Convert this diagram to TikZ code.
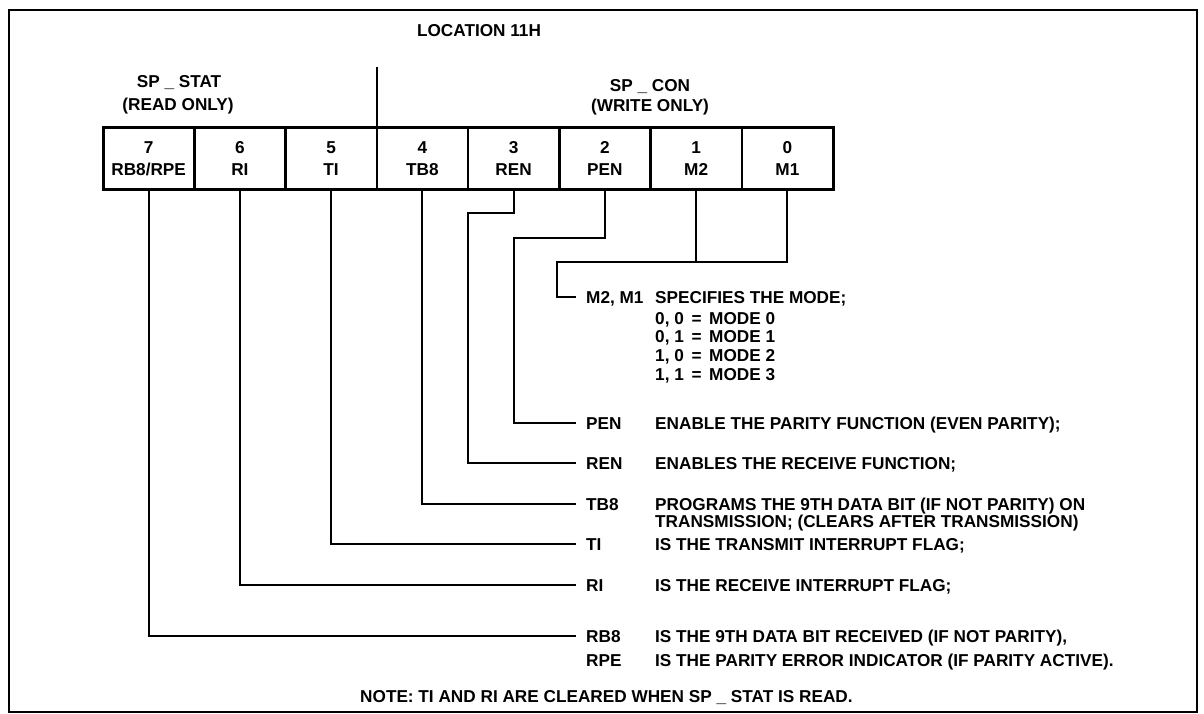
\documentclass[tikz,border=0pt]{standalone}
\usepackage{fontspec}
\setmainfont{Liberation Sans}
\usetikzlibrary{positioning}

\begin{document}
\begin{tikzpicture}[x=1pt, y=-1pt,
    txt/.style={font=\fontsize{17.2}{19}\selectfont\bfseries, inner sep=0pt},
    cell/.style={txt, draw, line width=2.5pt, outer sep=0pt, minimum width=91.25pt, minimum height=62pt, align=center},
    tag/.style={txt, anchor=base west, inner xsep=10pt, text height=12pt, text depth=0pt},
    desc/.style={txt, anchor=base west},
    wire/.style={line width=2pt}
]
    \useasboundingbox (0,0) rectangle (1204,714);
    \draw[line width=2.5pt] (9,10) rectangle (1197,712);

    % headings
    \node[txt] (loc) at (479,31) {LOCATION 11H};
    \node[txt] (stat) at (179,83) {SP \_ STAT};
    \node[txt] (statro) at (178,106) {(READ ONLY)};
    \node[txt] (con) at (650,87) {SP \_ CON};
    \node[txt] (conwo) at (650,107) {(WRITE ONLY)};

    % register cells
    \foreach \n/\name [count=\k from 0] in {7/{RB8/RPE}, 6/RI, 5/TI, 4/TB8, 3/REN, 2/PEN, 1/M2, 0/M1}
        \node[cell] (bit\n) at (148.625+91.25*\k,158.5) {\n\\[3pt]\name};
    \draw[line width=3pt] (bit7.north west) rectangle (bit0.south east);
    \draw[line width=2.5pt] (bit4.north west) -- ++(0,-60);

    % labels
    \node[tag] (mtag) at (576,303) {M2, M1};
    \node[tag] (pentag) at (576,429) {PEN};
    \node[tag] (rentag) at (576,469) {REN};
    \node[tag] (tbtag) at (576,510) {TB8};
    \node[tag] (titag) at (576,550) {TI};
    \node[tag] (ritag) at (576,591) {RI};
    \node[tag] (rbtag) at (576,642) {RB8};
    \node[tag] (rpetag) at (576,666) {RPE};

    % descriptions
    \node[desc] (mdesc) at (655,303) {SPECIFIES THE MODE;};
    \foreach \a/\b [count=\k from 0] in {0/0, 0/1, 1/0, 1/1}
        \node[desc] (mode\k) at (655,324+18.7*\k) {\a, \b\ \,=\,\ MODE \k};
    \node[desc] (pendesc) at (655,429) {ENABLE THE PARITY FUNCTION (EVEN PARITY);};
    \node[desc] (rendesc) at (655,469) {ENABLES THE RECEIVE FUNCTION;};
    \node[desc] (tbdesc) at (655,510) {PROGRAMS THE 9TH DATA BIT (IF NOT PARITY) ON};
    \node[desc] (tbdesctwo) at (655,527) {TRANSMISSION; (CLEARS AFTER TRANSMISSION)};
    \node[desc] (tidesc) at (655,550) {IS THE TRANSMIT INTERRUPT FLAG;};
    \node[desc] (ridesc) at (655,591) {IS THE RECEIVE INTERRUPT FLAG;};
    \node[desc] (rbdesc) at (655,642) {IS THE 9TH DATA BIT RECEIVED (IF NOT PARITY),};
    \node[desc] (rpedesc) at (655,666) {IS THE PARITY ERROR INDICATOR (IF PARITY ACTIVE).};
    \node[desc] (note) at (360,702) {NOTE: TI AND RI ARE CLEARED WHEN SP \_ STAT IS READ.};

    % connectors
    \coordinate (renbend) at (468,213);
    \coordinate (penbend) at (513.625,238);
    \coordinate (modebend) at (557,262);
    \draw[wire] (bit0.south) |- (modebend) |- (mtag.west);
    \draw[wire] (bit1.south) -- (bit1.south |- modebend);
    \draw[wire] (bit2.south) |- (penbend) |- (pentag.west);
    \draw[wire] (bit3.south) |- (renbend) |- (rentag.west);
    \draw[wire] (bit4.south) |- (tbtag.west);
    \draw[wire] (bit5.south) |- (titag.west);
    \draw[wire] (bit6.south) |- (ritag.west);
    \draw[wire] (bit7.south) |- (rbtag.west);
\end{tikzpicture}
\end{document}
